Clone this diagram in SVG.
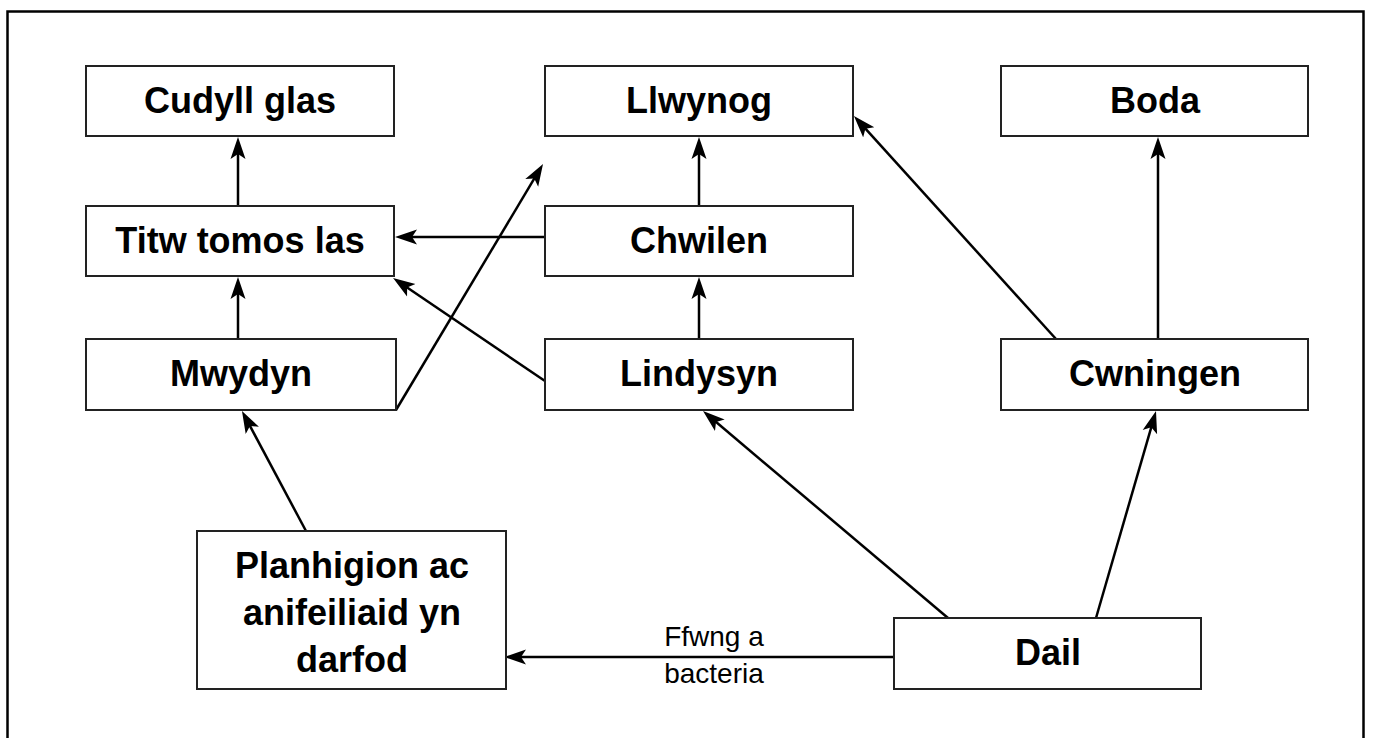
<svg xmlns="http://www.w3.org/2000/svg" width="1374" height="738" viewBox="0 0 1374 738">
<style>
.box{fill:#fff;stroke:#222;stroke-width:2}
.t{font-family:"Liberation Sans",Arial,sans-serif;font-weight:bold;font-size:36px;text-anchor:middle;fill:#000}
.lbl{font-family:"Liberation Sans",Arial,sans-serif;font-size:28px;text-anchor:middle;fill:#000}
.c line{stroke:#000;stroke-width:2.5;marker-end:url(#ah)}
</style>
<defs>
<marker id="ah" markerUnits="userSpaceOnUse" markerWidth="26" markerHeight="18" refX="13" refY="8" orient="auto" viewBox="0 0 26 18">
<path d="M22,8 L0,0.5 L5,8 L0,15.5 Z" fill="#000"/>
</marker>
</defs>
<rect x="7.5" y="11.5" width="1356" height="740" fill="#fff" stroke="#000" stroke-width="2.5"/>
<g class="c" id="connectors">
<line x1="238" y1="206" x2="238" y2="146"/>
<line x1="545" y1="237" x2="404" y2="237"/>
<line x1="238" y1="339" x2="238" y2="286"/>
<line x1="545" y1="381" x2="400.5" y2="283"/>
<line x1="396" y1="410" x2="538.4" y2="171.7"/>
<line x1="699" y1="206" x2="699" y2="146"/>
<line x1="699" y1="339" x2="699" y2="286"/>
<line x1="1056" y1="339" x2="860" y2="122.7"/>
<line x1="1158" y1="339" x2="1158" y2="146"/>
<line x1="1096" y1="618" x2="1153.5" y2="419.6"/>
<line x1="948" y1="618" x2="709.9" y2="416.8"/>
<line x1="306" y1="531" x2="246.2" y2="418.9"/>
<line x1="894" y1="657" x2="513" y2="657"/>
</g>
<g id="cudyll"><rect class="box" x="86" y="66" width="308" height="70"/><text class="t" x="240" y="113">Cudyll glas</text></g>
<g id="llwynog"><rect class="box" x="545" y="66" width="308" height="70"/><text class="t" x="699" y="113">Llwynog</text></g>
<g id="boda"><rect class="box" x="1001" y="66" width="307" height="70"/><text class="t" x="1155" y="113">Boda</text></g>
<g id="titw"><rect class="box" x="86" y="206" width="308" height="70"/><text class="t" x="240" y="253">Titw tomos las</text></g>
<g id="chwilen"><rect class="box" x="545" y="206" width="308" height="70"/><text class="t" x="699" y="253">Chwilen</text></g>
<g id="mwydyn"><rect class="box" x="86" y="339" width="310" height="71"/><text class="t" x="241" y="386">Mwydyn</text></g>
<g id="lindysyn"><rect class="box" x="545" y="339" width="308" height="71"/><text class="t" x="699" y="386">Lindysyn</text></g>
<g id="cwningen"><rect class="box" x="1001" y="339" width="307" height="71"/><text class="t" x="1155" y="386">Cwningen</text></g>
<g id="planhigion"><rect class="box" x="197" y="531" width="309" height="158"/><text class="t" x="352" y="578">Planhigion ac</text><text class="t" x="352" y="625">anifeiliaid yn</text><text class="t" x="352" y="672">darfod</text></g>
<g id="dail"><rect class="box" x="894" y="618" width="307" height="71"/><text class="t" x="1048" y="665">Dail</text></g>
<g id="label"><text class="lbl" x="714" y="646">Ffwng a</text><text class="lbl" x="714" y="683">bacteria</text></g>
</svg>
